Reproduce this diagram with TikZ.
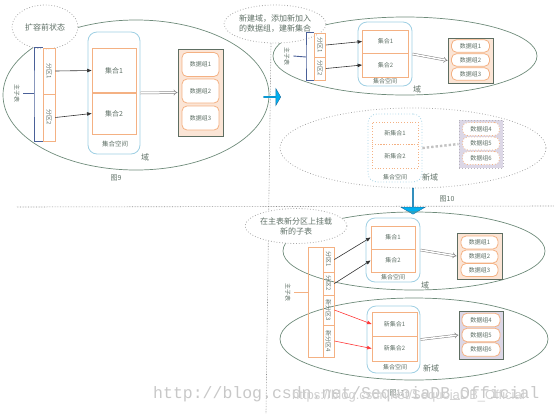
\documentclass[tikz,border=0pt]{standalone}
\usepackage{fontspec}
\setmainfont{Noto Sans CJK SC}
\newfontfamily\wmmono{Liberation Mono}
\newfontfamily\wmsans{Liberation Sans}
\usetikzlibrary{arrows.meta,shapes.geometric,shapes.arrows}
\definecolor{textc}{HTML}{5F7066}
\definecolor{domc}{HTML}{6E8B7A}
\definecolor{dotc}{HTML}{A8A8A8}
\definecolor{orc}{HTML}{F4B183}
\definecolor{skyc}{HTML}{9FCFE3}
\definecolor{mainc}{HTML}{4A6098}
\definecolor{peach}{HTML}{FBE5D6}
\definecolor{lav}{HTML}{DCD7E6}
\definecolor{boxc}{HTML}{5E6E62}
\definecolor{cyanc}{HTML}{00B0F0}
\definecolor{cyanb}{HTML}{1F6FA0}
\definecolor{linkc}{HTML}{333333}
\definecolor{redc}{HTML}{FF3B3B}
\definecolor{sepc}{HTML}{8C8C8C}
\definecolor{wmc}{HTML}{C8C8C8}
\tikzset{
  domarea/.style={ellipse, draw=domc, line width=0.7pt, inner sep=0pt},
  newdom/.style={ellipse, draw=dotc, dotted, line width=0.8pt, inner sep=0pt},
  bubble/.style={ellipse, draw=dotc, dotted, line width=0.8pt, fill=white, inner sep=0pt,
    align=center, text=textc, font=\fontsize{8}{10}\selectfont},
  space/.style={rectangle, rounded corners=9pt, draw=skyc, line width=0.8pt, inner sep=0pt},
  coll/.style={rectangle, draw=orc, line width=0.8pt, inner sep=0pt, text=textc,
    font=\fontsize{6}{7}\selectfont},
  part/.style={coll, rotate=-90},
  grpbox/.style={rectangle, draw=boxc, line width=1pt, fill=peach, inner sep=0pt},
  grp/.style={rectangle, rounded corners=5pt, draw=orc, fill=white, line width=0.8pt,
    inner sep=0pt, text=textc, font=\fontsize{6}{7}\selectfont},
  lab/.style={text=textc, font=\fontsize{8}{9}\selectfont},
  small/.style={text=textc, font=\fontsize{6}{7}\selectfont},
  link/.style={-{Triangle[length=4.5pt,width=3.5pt]}, draw=linkc, line width=0.6pt},
  redlink/.style={link, draw=redc},
  flow/.style={draw=gray, double=white, double distance=1.5pt, line width=0.5pt, -{Implies}},
  mainline/.style={draw=mainc, line width=0.9pt},
  orline/.style={draw=orc, line width=0.9pt},
  block/.style={single arrow, fill=cyanc, draw=cyanb, line width=0.4pt, inner sep=0pt,
    single arrow tip angle=120, single arrow head extend=2pt},
  sep/.style={draw=sepc, densely dotted, line width=0.6pt},
  wmark/.style={text=wmc, font=\wmmono\fontsize{16.5}{18}\selectfont, inner sep=0pt},
  wmark2/.style={text=wmc!85, font=\wmsans\fontsize{13}{15}\selectfont, inner sep=0pt}
}
\begin{document}
\begin{tikzpicture}[x=1pt,y=-1pt]
  \useasboundingbox (0,0) rectangle (554,413);

  % separators
  \draw[sep] (271,43) -- (266,413);
  \draw[sep] (17,207) -- (554,206);

  % ---- figure 9
  \node[domarea, minimum width=266pt, minimum height=150pt] (dom9) at (136,95) {};
  \node[bubble, minimum width=66pt, minimum height=44pt] (bub9) at (45,27) {扩容前状态};

  \node[part, minimum width=46pt, minimum height=12pt] (p91) at (49,71) {分区1};
  \node[part, minimum width=47pt, minimum height=12pt] (p92) at (49,117.5) {分区2};
  \coordinate (mt9) at (34,93);
  \draw[mainline] (p91.south west) -| (mt9) |- (p92.south east);
  \node[small, rotate=-90] (zb9) at (17,93) {主子表};
  \draw[mainline] (zb9.north) -- (mt9);

  \node[space, minimum width=52pt, minimum height=122pt] (sp9) at (114,93) {};
  \node[coll, font=\fontsize{7}{8}\selectfont, minimum width=44pt, minimum height=45pt] (c91) at (114,70.5) {集合1};
  \node[coll, font=\fontsize{7}{8}\selectfont, minimum width=44pt, minimum height=42pt] (c92) at (114,113.5) {集合2};
  \node[small, font=\fontsize{6.5}{7}\selectfont] (cs9) at (115,144) {集合空间};
  \draw[link] (p91.north) -- (c91.west);
  \draw[link] (p92.north) -- (c92.west);

  \node[grpbox, minimum width=45pt, minimum height=87pt] (g9) at (200.5,92.5) {};
  \node[grp, minimum width=37pt, minimum height=24pt] (g91) at (200.5,64.5) {数据组1};
  \node[grp, minimum width=37pt, minimum height=24pt] (g92) at (200.5,91) {数据组2};
  \node[grp, minimum width=37pt, minimum height=24pt] (g93) at (200.5,118) {数据组3};
  \draw[flow] (sp9.east) -- (g9.west);

  \node[lab] (d9) at (145,157) {域};
  \node[lab, font=\fontsize{7}{8}\selectfont] (fig9) at (116,178) {图9};

  \node[block, minimum height=17pt, minimum width=17pt] (arrR) at (272,97) {};

  % ---- figure 10
  \node[domarea, minimum width=264pt, minimum height=78pt] (dom10) at (405,56) {};
  \node[bubble, minimum width=90pt, minimum height=38pt] (bub10) at (275,24) {新建域，添加新加入\\的数据组，建新集合};

  \node[part, minimum width=24pt, minimum height=11pt] (p101) at (320,45) {分区1};
  \node[part, minimum width=23pt, minimum height=11pt] (p102) at (320,68.5) {分区2};
  \coordinate (mt10) at (306,57);
  \draw[mainline] (p101.south west) -| (mt10) |- (p102.south east);
  \node[small, rotate=-90] (zb10) at (287,56) {主子表};
  \draw[mainline] (zb10.north) -- (mt10);

  \node[space, minimum width=54pt, minimum height=64pt] (sp10) at (385,54) {};
  \node[coll, minimum width=46pt, minimum height=23pt] (c101) at (385.5,41.5) {集合1};
  \node[coll, minimum width=46pt, minimum height=24pt] (c102) at (385.5,65) {集合2};
  \node[small] (cs10) at (385,81) {集合空间};
  \draw[link] (p101.north) -- (c101.west);
  \draw[link] (p102.north) -- (c102.west);

  \node[grpbox, minimum width=45pt, minimum height=45pt] (g10) at (470.5,60.5) {};
  \node[grp, minimum width=38pt, minimum height=12.5pt] (g101) at (470.5,46) {数据组1};
  \node[grp, minimum width=38pt, minimum height=12.5pt] (g102) at (470.5,60) {数据组2};
  \node[grp, minimum width=38pt, minimum height=12.5pt] (g103) at (470.5,74) {数据组3};
  \draw[flow] (sp10.east) -- (g10.west);
  \node[lab] (d10) at (417,89) {域};

  % new domain, not yet in use
  \node[newdom, minimum width=266pt, minimum height=80pt] (dom10n) at (413,148) {};
  \node[space, dotted, minimum width=54pt, minimum height=68pt] (sp10n) at (395,148) {};
  \node[coll, dotted, minimum width=46pt, minimum height=22pt] (c103) at (395,133) {新集合1};
  \node[coll, dotted, minimum width=46pt, minimum height=24pt] (c104) at (395,156) {新集合2};
  \node[small] (cs10n) at (395,177) {集合空间};
  \node[grpbox, draw=lav!60!gray, dotted, fill=lav, minimum width=44pt, minimum height=48pt] (g10n) at (481,144) {};
  \node[grp, dotted, minimum width=37pt, minimum height=13pt] (g104) at (481,129) {数据组4};
  \node[grp, dotted, minimum width=37pt, minimum height=13pt] (g105) at (481,143.5) {数据组5};
  \node[grp, dotted, minimum width=37pt, minimum height=13pt] (g106) at (481,158) {数据组6};
  \draw[draw=dotc!70, dotted, line width=2.4pt] (sp10n.east) -- (g10n.west);
  \node[lab] (d10n) at (430,177) {新域};
  \node[lab, font=\fontsize{7}{8}\selectfont] (fig10) at (447,199) {图10};

  \node[block, shape border rotate=270, minimum height=26pt, minimum width=24pt,
    single arrow head extend=4pt] (arrD) at (413,201) {};

  % ---- figure 11
  \node[domarea, minimum width=262pt, minimum height=78pt] (dom11) at (414,251) {};
  \node[domarea, minimum width=268pt, minimum height=82pt] (dom11n) at (414,339) {};
  \node[bubble, minimum width=88pt, minimum height=35pt] (bub11) at (296,226) {在主表新分区上挂载\\新的子表};

  \node[coll, minimum width=26pt, minimum height=110pt] (mt11) at (321,302) {};
  \node[part, minimum width=25pt, minimum height=11pt] (p111) at (328.5,259.5) {分区1};
  \node[part, minimum width=23pt, minimum height=11pt] (p112) at (328.5,283.5) {分区2};
  \node[part, minimum width=30pt, minimum height=11pt] (p113) at (328.5,310) {新分区3};
  \node[part, minimum width=32pt, minimum height=11pt] (p114) at (328.5,341) {新分区4};
  \node[small, rotate=-90] (zb11) at (288,292) {主子表};
  \draw[orline] (zb11.north) -- (zb11.north -| mt11.west);

  \node[space, minimum width=54pt, minimum height=64pt] (sp11) at (393,250) {};
  \node[coll, minimum width=44pt, minimum height=23pt] (c111) at (393,237.5) {集合1};
  \node[coll, minimum width=44pt, minimum height=23pt] (c112) at (393,260.5) {集合2};
  \node[small] (cs11) at (393,277) {集合空间};
  \draw[link] (p111.north) -- (c111.west);
  \draw[link] (p112.north) -- (c112.west);

  \node[grpbox, minimum width=45pt, minimum height=46pt] (g11) at (479.5,256) {};
  \node[grp, minimum width=37pt, minimum height=13pt] (g111) at (479.5,242.5) {数据组1};
  \node[grp, minimum width=37pt, minimum height=13pt] (g112) at (479.5,256.5) {数据组2};
  \node[grp, minimum width=37pt, minimum height=13pt] (g113) at (479.5,270) {数据组3};
  \draw[flow] (sp11.east) -- (g11.west);
  \node[lab] (d11) at (425,285) {域};

  \node[space, minimum width=53pt, minimum height=67pt] (sp11n) at (393.5,339.5) {};
  \node[coll, minimum width=45pt, minimum height=24pt] (c113) at (394.5,324) {新集合1};
  \node[coll, minimum width=45pt, minimum height=25pt] (c114) at (394.5,348.5) {新集合2};
  \node[small] (cs11n) at (395,367) {集合空间};
  \draw[redlink] (p113.north) -- (c113.west);
  \draw[redlink] (p114.north) -- (c114.west);

  \node[grpbox, fill=lav, minimum width=44pt, minimum height=48pt] (g11n) at (481,335) {};
  \node[grp, minimum width=38pt, minimum height=13.5pt] (g114) at (481,320) {数据组4};
  \node[grp, minimum width=38pt, minimum height=13.5pt] (g115) at (481,335) {数据组5};
  \node[grp, minimum width=38pt, minimum height=13.5pt] (g116) at (481,349.5) {数据组6};
  \draw[flow] (sp11n.east) -- (g11n.west);
  \node[lab] (d11n) at (431,368) {新域};

  \node[lab, font=\fontsize{7}{8}\selectfont] (fig11) at (397,393) {图11};

  % watermarks
  \node[wmark, anchor=base west] (wm1) at (153,398) {http://blog.csdn.net/SequoiaDB\_Official};
  \node[wmark2, anchor=base west] (wm2) at (292,399) {https://blog.csdn.net/SequoiaDB\_Official};
\end{tikzpicture}
\end{document}
